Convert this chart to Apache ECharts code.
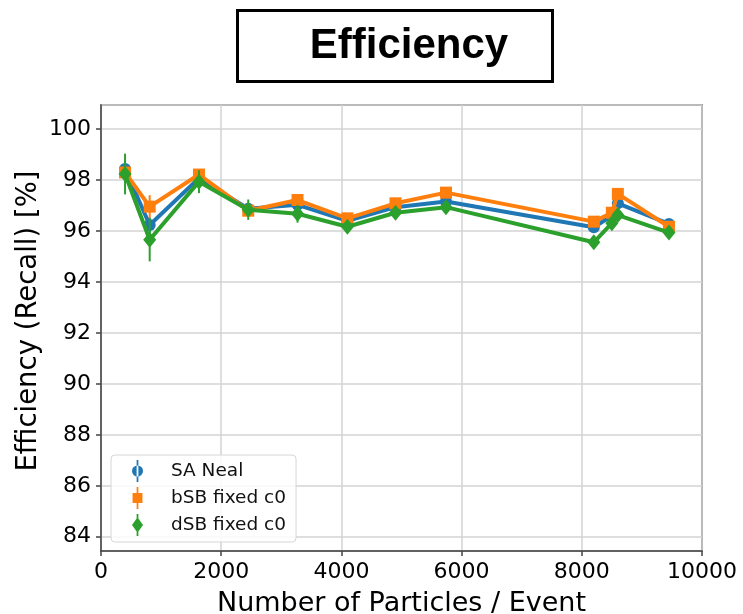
<!DOCTYPE html>
<html>
<head>
<meta charset="utf-8">
<script src="https://cdn.jsdelivr.net/npm/echarts@6/dist/echarts.min.js"></script>
<style>
  html, body { margin: 0; padding: 0; background: #fff; }
  #chart { width: 743px; height: 614px; }
</style>
</head>
<body>
<div id="chart"></div>
<script>
// Number of particles per event (x values)
const particles = [400, 810, 1630, 2450, 3270, 4100, 4900, 5740, 8200, 8500, 8600, 9450];

// Efficiency (recall) in percent, per method
const saNeal   = [98.44, 96.24, 98.08, 96.88, 97.03, 96.40, 96.94, 97.16, 96.15, 96.60, 97.09, 96.28];
const bsbFixed = [98.30, 96.96, 98.22, 96.80, 97.22, 96.50, 97.09, 97.51, 96.37, 96.72, 97.46, 96.17];
const dsbFixed = [98.24, 95.66, 97.94, 96.84, 96.68, 96.17, 96.72, 96.94, 95.56, 96.31, 96.63, 95.94];

// Symmetric uncertainties (error bar half-lengths)
const saNealErr   = [0.35, 0.30, 0.20, 0.15, 0.15, 0.15, 0.15, 0.15, 0.15, 0.15, 0.15, 0.15];
const bsbFixedErr = [0.30, 0.45, 0.20, 0.20, 0.20, 0.15, 0.15, 0.15, 0.15, 0.15, 0.15, 0.15];
const dsbFixedErr = [0.80, 0.85, 0.45, 0.40, 0.35, 0.20, 0.20, 0.20, 0.20, 0.15, 0.15, 0.15];

const seriesNames = ['SA Neal', 'bSB fixed c0', 'dSB fixed c0'];
const colors = ['#1f77b4', '#ff7f0e', '#2ca02c'];

const FONT = 'DejaVu Sans';

const chart = echarts.init(document.getElementById('chart'));

function errorSeries(name, vals, errs, color, z) {
  return {
    name: name,
    type: 'custom',
    z: z,
    silent: true,
    data: particles.map((x, i) => [x, vals[i], errs[i]]),
    encode: { x: 0, y: 1 },
    renderItem: function (params, api) {
      const x = api.value(0), y = api.value(1), e = api.value(2);
      const top = api.coord([x, y + e]);
      const bot = api.coord([x, y - e]);
      return {
        type: 'line',
        shape: { x1: top[0], y1: top[1], x2: bot[0], y2: bot[1] },
        style: { stroke: color, lineWidth: 2 }
      };
    }
  };
}

function lineSeries(name, vals, color, symbol, size, z) {
  return {
    name: name,
    type: 'line',
    z: z,
    data: particles.map((x, i) => [x, vals[i]]),
    symbol: symbol,
    symbolSize: size,
    showAllSymbol: true,
    lineStyle: { color: color, width: 4 },
    itemStyle: { color: color, borderWidth: 0 }
  };
}

// Legend icons: marker with a vertical error bar through it
const iconCircle  = 'path://M4.2,0H5.8V20H4.2Z M0,10A5,5 0 1,0 10,10A5,5 0 1,0 0,10Z';
const iconSquare  = 'path://M4.2,0H5.8V20H4.2Z M0.5,5.5H9.5V14.5H0.5Z';
const iconDiamond = 'path://M4.2,0H5.8V20H4.2Z M5,3L10,10L5,17L0,10Z';

const option = {
  animation: false,
  backgroundColor: '#ffffff',
  graphic: [
    {
      type: 'rect',
      shape: { x: 237.5, y: 10.5, width: 315, height: 71 },
      style: { fill: '#ffffff', stroke: '#000000', lineWidth: 3 }
    },
    {
      type: 'text',
      x: 409, y: 46,
      style: {
        text: 'Efficiency',
        font: 'bold 42px "Liberation Sans", Arial, sans-serif',
        fill: '#000000',
        align: 'center',
        verticalAlign: 'middle'
      }
    }
  ],
  grid: {
    left: 101, right: 41, top: 105, bottom: 63,
    outerBoundsMode: 'none',
    containLabel: false,
    show: true,
    borderColor: '#444444',
    borderWidth: 1.5,
    backgroundColor: 'transparent'
  },
  legend: {
    orient: 'vertical',
    left: 111, top: 455,
    padding: [5, 10, 6, 21],
    itemWidth: 57, itemHeight: 22,
    itemGap: 5,
    backgroundColor: 'rgba(255,255,255,0.85)',
    borderColor: '#d6d6d6',
    borderWidth: 1,
    borderRadius: 4,
    textStyle: { fontFamily: FONT, fontSize: 18.5, color: '#111' },
    data: [
      { name: seriesNames[0], icon: iconCircle },
      { name: seriesNames[1], icon: iconSquare },
      { name: seriesNames[2], icon: iconDiamond }
    ]
  },
  xAxis: {
    type: 'value',
    min: 0, max: 10000, interval: 2000,
    name: 'Number of Particles / Event',
    nameLocation: 'middle',
    nameGap: 39,
    nameMoveOverlap: false,
    nameTextStyle: { fontFamily: FONT, fontSize: 27, color: '#000' },
    axisLine: { show: true, onZero: false, lineStyle: { color: '#444', width: 1.5 } },
    axisTick: { show: true, inside: false, length: 5, lineStyle: { color: '#444', width: 1.5 } },
    axisLabel: {
      fontFamily: FONT, fontSize: 22, color: '#000', margin: 10,
      formatter: function (v) { return String(v); }
    },
    splitLine: { show: true, lineStyle: { color: '#d3d3d3', width: 1.5 } }
  },
  yAxis: {
    type: 'value',
    min: 83.44, max: 100.95,
    splitNumber: 8,
    name: 'Efficiency (Recall) [%]',
    nameLocation: 'middle',
    nameGap: 58,
    nameMoveOverlap: false,
    nameTextStyle: { fontFamily: FONT, fontSize: 27.5, color: '#000', padding: [0, 0, 0, 14] },
    axisLine: { show: true, onZero: false, lineStyle: { color: '#444', width: 1.5 } },
    axisTick: { show: true, inside: false, length: 5, lineStyle: { color: '#444', width: 1.5 } },
    axisLabel: {
      fontFamily: FONT, fontSize: 22, color: '#000', margin: 10,
      showMinLabel: false, showMaxLabel: false,
      formatter: function (v) { return Math.abs(v - Math.round(v)) < 1e-6 ? String(Math.round(v)) : ''; }
    },
    splitLine: { show: true, lineStyle: { color: '#d3d3d3', width: 1.5 } }
  },
  series: [
    errorSeries('SA Neal err', saNeal, saNealErr, colors[0], 1),
    lineSeries(seriesNames[0], saNeal, colors[0], 'circle', 12, 2),
    errorSeries('bSB err', bsbFixed, bsbFixedErr, colors[1], 3),
    lineSeries(seriesNames[1], bsbFixed, colors[1], 'rect', 12, 4),
    errorSeries('dSB err', dsbFixed, dsbFixedErr, colors[2], 5),
    lineSeries(seriesNames[2], dsbFixed, colors[2], 'diamond', [13, 16], 6)
  ]
};

chart.setOption(option);
</script>
</body>
</html>
